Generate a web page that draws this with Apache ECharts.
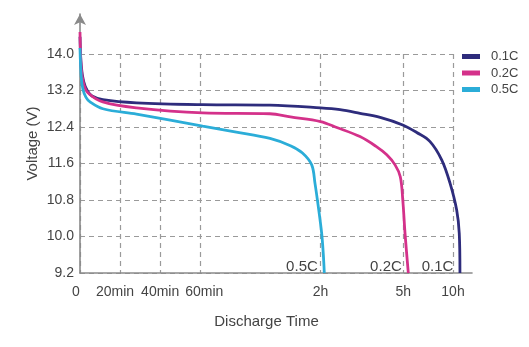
<!DOCTYPE html>
<html>
<head>
<meta charset="utf-8">
<title>Discharge curves</title>
<script src="https://cdn.jsdelivr.net/npm/echarts@6/dist/echarts.min.js"></script>
<style>
  html, body { margin: 0; padding: 0; background: #fff; }
  #chart { width: 529px; height: 347px; }
</style>
</head>
<body>
<div id="chart"></div>
<script>
// Discharge time in hours, voltage in volts
const rateNames = ['0.1C', '0.2C', '0.5C'];

const curve01C = [
  [0, 14.38], [0.01, 13.75], [0.03, 13.40], [0.06, 13.20], [0.1, 13.08], [0.19, 13.00],
  [0.47, 12.93], [1.02, 12.89], [1.58, 12.88], [2.0, 12.82], [2.71, 12.78], [3.43, 12.70],
  [4.16, 12.61], [5.0, 12.44], [6.35, 12.28], [7.69, 12.08], [8.86, 11.68], [9.70, 11.17],
  [10.37, 10.58], [10.63, 10.07], [10.70, 9.2]
];
const curve02C = [
  [0, 14.48], [0.01, 13.70], [0.03, 13.35], [0.066, 13.15], [0.19, 12.95], [0.47, 12.82],
  [1.02, 12.71], [1.58, 12.69], [1.75, 12.62], [2.0, 12.52], [2.59, 12.39], [3.43, 12.19],
  [4.0, 11.98], [4.4, 11.79], [4.70, 11.57], [4.89, 11.31], [4.98, 10.80], [5.17, 10.07],
  [5.50, 9.2]
];
const curve05C = [
  [0, 14.13], [0.01, 13.50], [0.025, 13.22], [0.05, 13.05], [0.083, 12.95], [0.19, 12.80],
  [0.47, 12.68], [0.75, 12.55], [1.02, 12.42], [1.30, 12.29], [1.58, 12.15], [1.75, 11.99],
  [1.85, 11.83], [1.927, 11.57], [1.954, 11.17], [1.982, 10.65], [2.043, 10.07], [2.10, 9.63],
  [2.138, 9.2]
];

const xTickHours = [0, 1 / 3, 2 / 3, 1, 2, 5, 10];
const xTickLabels = ['0', '20min', '40min', '60min', '2h', '5h', '10h'];
const yTicks = [9.2, 10.0, 10.8, 11.6, 12.4, 13.2, 14.0];

// The time axis is linear up to 2h, then compressed piecewise (2h-5h-10h).
const scaleKnotsHours = [0, 2, 5, 10];
const scaleKnotsAxis = [0, 2, 2.689, 3.102];
function toAxis(t) {
  let i = 0;
  while (i < scaleKnotsHours.length - 2 && t > scaleKnotsHours[i + 1]) i++;
  const h0 = scaleKnotsHours[i], h1 = scaleKnotsHours[i + 1];
  const a0 = scaleKnotsAxis[i], a1 = scaleKnotsAxis[i + 1];
  return a0 + (t - h0) * (a1 - a0) / (h1 - h0);
}

const colors = ['#2e2c7c', '#d4318a', '#2badd8'];
const curves = [curve01C, curve02C, curve05C];
const xTickAxis = xTickHours.map(toAxis);

const textColor = '#444';
const fontFamily = '"Liberation Sans", Arial, sans-serif';
const gridDash = { color: '#9a9a9a', type: [5, 4], width: 1.2 };
const axisGray = '#8a8a8a';

// Layout: the inner grid is the dashed-grid box (0..10h, 9.2..14.0 V);
// the outer grid carries the axis lines, the arrow and the curves and
// shares the same scale, extended to its larger box.
const plotLeft = 80, plotBottom = 74;
const innerRight = 76, innerTop = 54;
const outerRight = 57, outerTop = 14;
const W = 529, H = 347;
const innerW = W - plotLeft - innerRight, outerW = W - plotLeft - outerRight;
const innerH = H - plotBottom - innerTop, outerH = H - plotBottom - outerTop;
const xInnerMax = toAxis(10);
const xOuterMax = xInnerMax * outerW / innerW;
const yMin = yTicks[0], yInnerMax = yTicks[yTicks.length - 1];
const yOuterMax = yMin + (yInnerMax - yMin) * outerH / innerH;

// small nudges that spread the crowded minute labels apart
const labelNudge = { '0': -4, '20min': -5, '40min': 0, '60min': 4, '2h': 0, '5h': 0, '10h': 0 };
const xRich = {};
xTickLabels.forEach((lab, i) => {
  const n = labelNudge[lab];
  xRich['k' + i] = {
    fontSize: 14, color: textColor, fontFamily: fontFamily,
    padding: n < 0 ? [0, -2 * n, 0, 0] : [0, 0, 0, 2 * n]
  };
});

const series = curves.map((c, i) => {
  const pts = c.map(p => [toAxis(p[0]), p[1]]);
  const last = pts[pts.length - 1];
  return {
    name: rateNames[i],
    type: 'line',
    xAxisIndex: 1,
    yAxisIndex: 1,
    data: pts,
    showSymbol: false,
    symbol: 'none',
    smooth: 0.35,
    color: colors[i],
    lineStyle: { color: colors[i], width: 2.8 },
    z: 3 + i,
    markPoint: {
      symbol: 'circle',
      symbolSize: 1,
      itemStyle: { color: 'rgba(0,0,0,0)' },
      label: {
        show: true,
        position: 'left',
        distance: 6,
        offset: [0, -6],
        formatter: rateNames[i],
        fontSize: 15,
        color: textColor,
        fontFamily: fontFamily
      },
      data: [{ coord: last }]
    }
  };
});

const chart = echarts.init(document.getElementById('chart'), null, { renderer: 'canvas' });
chart.setOption({
  animation: false,
  backgroundColor: '#fff',
  textStyle: { fontFamily: fontFamily },
  legend: {
    orient: 'vertical',
    left: 462,
    top: 50,
    padding: 0,
    icon: 'rect',
    itemWidth: 18,
    itemHeight: 5,
    itemGap: 3.5,
    data: rateNames,
    textStyle: { fontSize: 13, color: textColor, lineHeight: 13, padding: [0, 0, 0, 6], fontFamily: fontFamily }
  },
  grid: [
    { left: plotLeft, right: innerRight, top: innerTop, bottom: plotBottom },
    { left: plotLeft, right: outerRight, top: outerTop, bottom: plotBottom }
  ],
  xAxis: [
    {
      type: 'value',
      gridIndex: 0,
      min: 0,
      max: xInnerMax,
      axisLine: { show: false },
      axisTick: { show: false, customValues: xTickAxis },
      axisLabel: {
        customValues: xTickAxis,
        margin: 12,
        formatter: v => {
          let best = 0;
          xTickAxis.forEach((a, i) => { if (Math.abs(a - v) < Math.abs(xTickAxis[best] - v)) best = i; });
          return '{k' + best + '|' + xTickLabels[best] + '}';
        },
        rich: xRich
      },
      splitLine: { show: true, lineStyle: gridDash },
      name: 'Discharge Time',
      nameLocation: 'middle',
      nameGap: 41,
      nameTextStyle: { fontSize: 15, color: textColor, fontFamily: fontFamily }
    },
    {
      type: 'value',
      gridIndex: 1,
      min: 0,
      max: xOuterMax,
      axisLine: { show: true, lineStyle: { color: axisGray, width: 1.6 } },
      axisTick: { show: false },
      axisLabel: { show: false },
      splitLine: { show: false }
    }
  ],
  yAxis: [
    {
      type: 'value',
      gridIndex: 0,
      min: yMin,
      max: yInnerMax,
      axisLine: { show: false },
      axisTick: { show: false, customValues: yTicks },
      axisLabel: {
        customValues: yTicks,
        margin: 6,
        fontSize: 14,
        color: textColor,
        fontFamily: fontFamily,
        formatter: v => v.toFixed(1)
      },
      splitLine: { show: true, lineStyle: gridDash }
    },
    {
      type: 'value',
      gridIndex: 1,
      min: yMin,
      max: yOuterMax,
      axisLine: {
        show: true,
        symbol: ['none', 'arrow'],
        symbolSize: [9, 11],
        lineStyle: { color: axisGray, width: 1.6 }
      },
      axisTick: { show: false },
      axisLabel: { show: false },
      splitLine: { show: false },
      name: 'Voltage (V)',
      nameLocation: 'middle',
      nameGap: 40,
      nameTextStyle: { fontSize: 15, color: textColor, fontFamily: fontFamily }
    }
  ],
  series: series
});
</script>
</body>
</html>
